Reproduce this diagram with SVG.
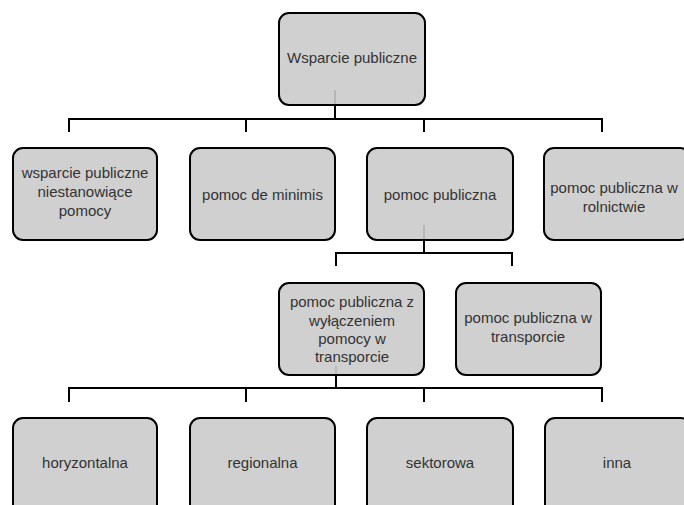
<svg xmlns="http://www.w3.org/2000/svg" width="684" height="505" viewBox="0 0 684 505">
<style>
.box{fill:#d0d0d0;stroke:#000;stroke-width:2}
.t{font-family:"Liberation Sans",Arial,sans-serif;font-size:15px;fill:#333;text-anchor:middle}
.c{fill:none;stroke:#000;stroke-width:2}
.g{stroke:#b8b8b8;stroke-width:2}
</style>
<rect width="684" height="505" fill="#fff"/>
<g id="n0"><rect class="box" x="279" y="13" width="146" height="92" rx="10"/><text class="t" x="352" y="63">Wsparcie publiczne</text></g>
<g id="n1"><rect class="box" x="13" y="148" width="144" height="92" rx="10"/><text class="t" x="85" y="178">wsparcie publiczne</text><text class="t" x="85" y="197">niestanowiące</text><text class="t" x="85" y="216">pomocy</text></g>
<g id="n2"><rect class="box" x="190" y="148" width="145" height="92" rx="10"/><text class="t" x="262.5" y="200">pomoc de minimis</text></g>
<g id="n3"><rect class="box" x="367" y="148" width="146" height="92" rx="10"/><text class="t" x="440" y="200">pomoc publiczna</text></g>
<g id="n4"><rect class="box" x="544" y="148" width="146" height="92" rx="10"/><text class="t" x="614" y="193">pomoc publiczna w</text><text class="t" x="614" y="212">rolnictwie</text></g>
<g id="n5"><rect class="box" x="279" y="283" width="145" height="92" rx="10"/><text class="t" x="352" y="307">pomoc publiczna z</text><text class="t" x="352" y="326">wyłączeniem</text><text class="t" x="352" y="344">pomocy w</text><text class="t" x="352" y="362">transporcie</text></g>
<g id="n6"><rect class="box" x="456" y="283" width="145" height="92" rx="10"/><text class="t" x="528" y="323">pomoc publiczna w</text><text class="t" x="528" y="342">transporcie</text></g>
<g id="n7"><rect class="box" x="13" y="418" width="144" height="100" rx="10"/><text class="t" x="85" y="468">horyzontalna</text></g>
<g id="n8"><rect class="box" x="190" y="418" width="145" height="100" rx="10"/><text class="t" x="262.5" y="468">regionalna</text></g>
<g id="n9"><rect class="box" x="367" y="418" width="146" height="100" rx="10"/><text class="t" x="440" y="468">sektorowa</text></g>
<g id="n10"><rect class="box" x="545" y="418" width="146" height="100" rx="10"/><text class="t" x="617" y="468">inna</text></g>
<g id="connectors">
<line class="g" x1="335" y1="90" x2="335" y2="104"/>
<line class="g" x1="424" y1="225" x2="424" y2="239"/>
<line class="g" x1="336" y1="366" x2="336" y2="374"/>
<path class="c" d="M335 106V119M69 132V119H602V132M246 119V132M424 119V132"/>
<path class="c" d="M424 241V253M336 266V253H512V266"/>
<path class="c" d="M336 376V388M69 402V388H602V402M246 388V402M424 388V402"/>
</g>
</svg>
